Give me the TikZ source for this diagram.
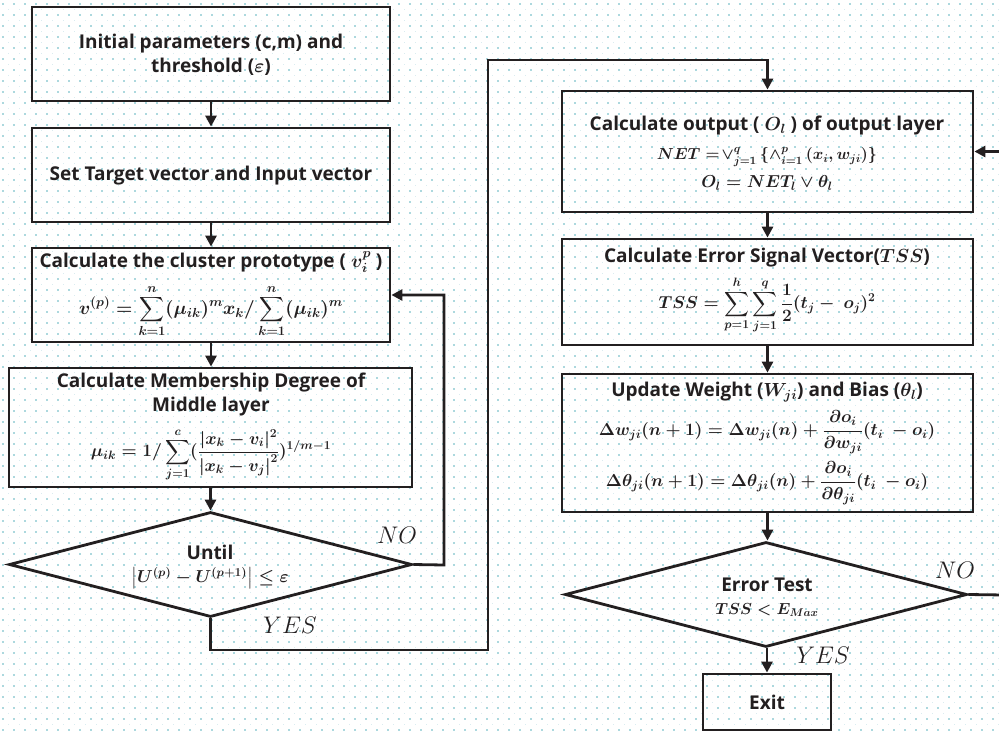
\RequirePackage{fix-cm}
\documentclass[tikz,border=0pt]{standalone}
\usepackage[no-math]{fontspec}
\setmainfont{Open Sans}
\usepackage{amsmath}
\usetikzlibrary{arrows.meta,shapes.geometric}
\definecolor{ink}{RGB}{35,31,32}
\definecolor{dotmaj}{RGB}{172,216,222}
\definecolor{dotmin}{RGB}{218,236,240}
\begin{document}
\begin{tikzpicture}[x=1pt,y=-1pt,
  box/.style={draw=ink, line width=2.8pt, rectangle, inner sep=0pt},
  dia/.style={draw=ink, line width=2.8pt, diamond, inner sep=0pt},
  conn/.style={draw=ink, line width=2.8pt},
  arr/.style={conn, -{Triangle[length=11pt,width=11pt]}},
  ttl/.style={text=ink, font=\bfseries\boldmath\fontsize{19}{24}\selectfont, align=center, inner sep=0pt},
  fml/.style={text=ink, font=\bfseries\boldmath\fontsize{17.3}{24}\selectfont, align=center, inner sep=0pt},
  fmls/.style={fml, font=\bfseries\boldmath\fontsize{16}{24}\selectfont},
  fmlb/.style={fml, font=\bfseries\boldmath\fontsize{18.7}{24}\selectfont},
  yn/.style={text=ink, font=\fontsize{24}{24}\selectfont, inner sep=0pt}
]
% background and dot grid
\fill[white] (0,0) rectangle (999,731);
\useasboundingbox (0,0) rectangle (999,731);
\foreach \r in {0,...,66} {
  \draw[dotmin, line width=1pt, dash pattern=on 1pt off 10pt] (8,9.5+11*\r) -- (999,9.5+11*\r);
  \draw[dotmaj, line width=1.5pt, dash pattern=on 1.5pt off 9.5pt] (2.25,4+11*\r) -- (999,4+11*\r);
}

% left column
\node[box, minimum width=358pt, minimum height=94pt] (b1) at (211,54) {};
\node[box, minimum width=358pt, minimum height=94pt] (b2) at (211,175) {};
\node[box, minimum width=358pt, minimum height=94pt] (b3) at (211,295) {};
\node[box, minimum width=403pt, minimum height=119pt] (b4) at (210.5,427.5) {};
\node[dia, minimum width=403pt, minimum height=105pt] (d1) at (210.5,564.5) {};

\node[ttl] (t1) at (211,55) {Initial parameters (c,m) and\\threshold ($\varepsilon$)};
\node[ttl] (t2) at (211,176) {Set Target vector and Input vector};
\node[ttl] (t3a) at (211,262) {Calculate the cluster prototype ( $v_i^p$ )};
\node[fmlb] (t3b) at (211,311) {$\displaystyle v^{(p)} = \sum_{k=1}^{n}(\mu_{ik})^m x_k/\sum_{k=1}^{n}(\mu_{ik})^m$};
\node[ttl] (t4a) at (211,395) {Calculate Membership Degree of\\Middle layer};
\node[fml] (t4b) at (211,455) {$\displaystyle \mu_{ik} = 1/\sum_{j=1}^{c}(\frac{|x_k-v_i|^2}{\left|x_k-v_j\right|^2})^{1/m-1}$};
\node[ttl] (t5) at (210,552) {Until};
\node[fml] (t5b) at (210,578) {$\left|U^{(p)}-U^{(p+1)}\right| \le \varepsilon$};

% right column
\node[box, minimum width=411pt, minimum height=121pt] (b5) at (767.5,151.5) {};
\node[box, minimum width=411pt, minimum height=106pt] (b6) at (767.5,292) {};
\node[box, minimum width=411pt, minimum height=138pt] (b7) at (767.5,443) {};
\node[dia, minimum width=402pt, minimum height=105pt] (d2) at (766,594.5) {};
\node[box, minimum width=128pt, minimum height=56pt] (ex) at (767,702) {};

\node[ttl] (t6a) at (767,126) {Calculate output ( $O_l$ ) of output layer};
\node[fmls] (t6b) at (767,157) {$NET =\!\vee_{j=1}^{q}\,\{\wedge_{i=1}^{p}\,(x_i, w_{ji})\}$};
\node[fml] (t6c) at (767,183) {$O_l = NET_l \vee \theta_l$};
\node[ttl] (t7a) at (767,258) {Calculate Error Signal Vector($TSS$)};
\node[fml] (t7b) at (767,305) {$\displaystyle TSS = \sum_{p=1}^{h}\sum_{j=1}^{q}\frac{1}{2}(t_j-\ o_j)^2$};
\node[ttl] (t8a) at (767,392) {Update Weight ($W_{ji}$) and Bias ($\theta_l$)};
\node[fml] (t8b) at (767,432) {$\displaystyle \Delta w_{ji}(n+1) = \Delta w_{ji}(n) + \frac{\partial o_i}{\partial w_{ji}}(t_i\ - o_i)$};
\node[fml] (t8c) at (767,483) {$\displaystyle \Delta \theta_{ji}(n+1) = \Delta \theta_{ji}(n) + \frac{\partial o_i}{\partial \theta_{ji}}(t_i\ - o_i)$};
\node[ttl] (t9a) at (767,585) {Error Test};
\node[fmls] (t9b) at (767,610) {$TSS < E_{Max}$};
\node[ttl] (t10) at (767,702) {Exit};

% labels
\node[yn] (no1) at (397,535) {$NO$};
\node[yn] (yes1) at (290,625) {$YES$};
\node[yn] (no2) at (955,570) {$NO$};
\node[yn] (yes2) at (823,655) {$YES$};

% helper coordinates
\coordinate (c1) at (444,565);
\coordinate (y1) at (488,650);
\coordinate (y2) at (488,60);
\coordinate (n2) at (1004,595);

% connectors
\draw[arr] (b1.south) -- (b2.north);
\draw[arr] (b2.south) -- (b3.north);
\draw[arr] (b3.south) -- (b3.south |- b4.north);
\draw[arr] (b4.north |- b4.south) -- (d1.north);
\draw[arr] (d1.east) -- (c1) |- (b3.east);
\draw[arr] (d1.south) |- (y1) -- (y2) -| (b5.north);
\draw[arr] (b5.south) -- (b6.north);
\draw[arr] (b6.south) -- (b7.north);
\draw[arr] (b7.south) -- (b7.south |- d2.north);
\draw[arr] (d2.south -| ex.north) -- (ex.north);
\draw[arr] (d2.east) -- (n2) |- (b5.east);
\end{tikzpicture}
\end{document}
